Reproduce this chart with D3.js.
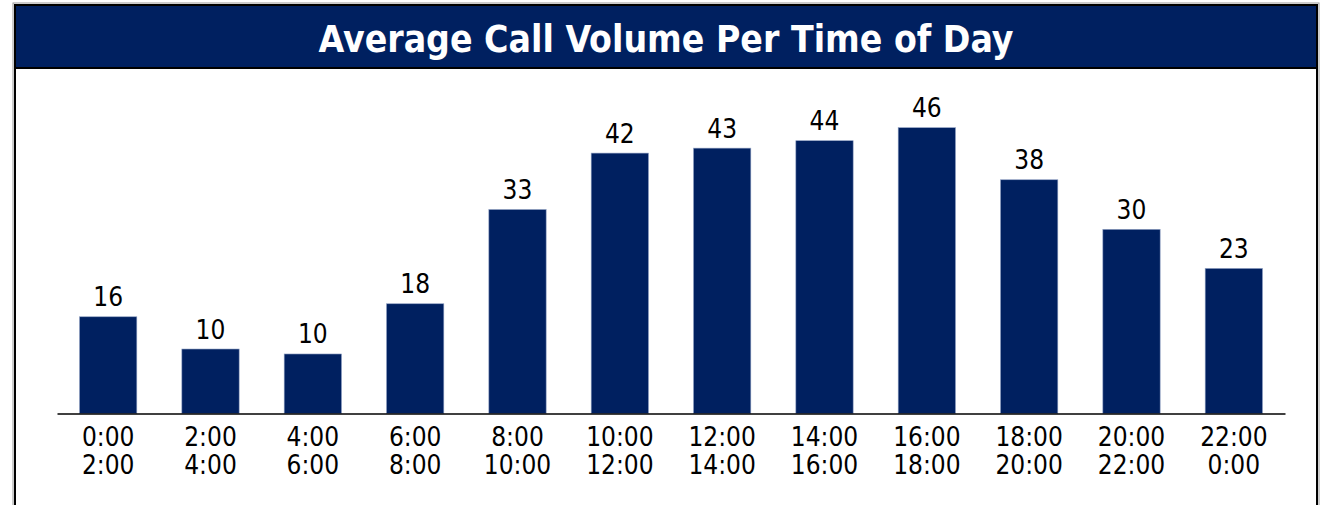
<!DOCTYPE html>
<html>
<head>
<meta charset="utf-8">
<script src="https://cdn.jsdelivr.net/npm/d3@7"></script>
<style>
  html, body { margin: 0; padding: 0; background: #fff; }
  svg { display: block; }
  text { font-family: "DejaVu Sans Condensed", "DejaVu Sans", sans-serif; font-stretch: condensed; }
</style>
</head>
<body>
<svg id="chart" width="1321" height="505"></svg>
<script>
const title = "Average Call Volume Per Time of Day";
const startLabels = ["0:00","2:00","4:00","6:00","8:00","10:00","12:00","14:00","16:00","18:00","20:00","22:00"];
const endLabels   = ["2:00","4:00","6:00","8:00","10:00","12:00","14:00","16:00","18:00","20:00","22:00","0:00"];
const callVolume  = [15.6, 10.4, 9.6, 17.7, 32.9, 42.0, 42.8, 44.0, 46.1, 37.7, 29.7, 23.4];

const svg = d3.select("#chart");
const navy = "#002060";

// frame
svg.append("rect").attr("x", 13).attr("y", 3).attr("width", 1306).attr("height", 520)
  .attr("fill", "none").attr("stroke", "#9a9a9a").attr("stroke-width", 1);
svg.append("line").attr("x1", 15).attr("x2", 15).attr("y1", 68).attr("y2", 520)
  .attr("stroke", "#000").attr("stroke-width", 2);
svg.append("line").attr("x1", 1317).attr("x2", 1317).attr("y1", 68).attr("y2", 520)
  .attr("stroke", "#000").attr("stroke-width", 2);

// title bar
svg.append("rect").attr("x", 15).attr("y", 5).attr("width", 1302).attr("height", 63)
  .attr("fill", navy).attr("stroke", "#000").attr("stroke-width", 2);
svg.append("text").attr("x", 666).attr("y", 52).attr("text-anchor", "middle")
  .attr("fill", "#fff").attr("font-weight", "bold").attr("font-size", 37)
  .text(title);

const baseline = 413.5;
const x = d3.scaleBand().domain(startLabels).range([57, 1285])
  .paddingInner(0.44).paddingOuter(0.22);
const y = d3.scaleLinear().domain([0, 50]).range([baseline, baseline - 310]);

// bars
svg.append("g").selectAll("rect").data(callVolume).join("rect")
  .attr("x", (d, i) => x(startLabels[i]))
  .attr("y", d => y(d))
  .attr("width", x.bandwidth())
  .attr("height", d => y(0) - y(d))
  .attr("fill", navy)
  .attr("stroke", "#8fa0c2").attr("stroke-width", 0.6);

// value labels
const fmt = d3.format(".0f");
svg.append("g").selectAll("text").data(callVolume).join("text")
  .attr("x", (d, i) => x(startLabels[i]) + x.bandwidth() / 2)
  .attr("y", d => y(d) - 10.5)
  .attr("text-anchor", "middle")
  .attr("font-size", 26).attr("fill", "#000")
  .text(d => fmt(d));

// axis
const axis = svg.append("g").attr("transform", `translate(0,${baseline})`)
  .call(d3.axisBottom(x).tickSize(0).tickSizeOuter(0));
axis.select(".domain").attr("stroke", "#000").attr("stroke-width", 1.6);
axis.selectAll(".tick text").each(function(d, i) {
  const t = d3.select(this);
  t.text(null).attr("y", 0).attr("dy", null)
    .attr("font-size", 26).attr("fill", "#000")
    .attr("font-family", "'DejaVu Sans Condensed', 'DejaVu Sans', sans-serif");
  t.append("tspan").attr("x", 0).attr("y", 32).text(startLabels[i]);
  t.append("tspan").attr("x", 0).attr("y", 60.5).text(endLabels[i]);
});
</script>
</body>
</html>
